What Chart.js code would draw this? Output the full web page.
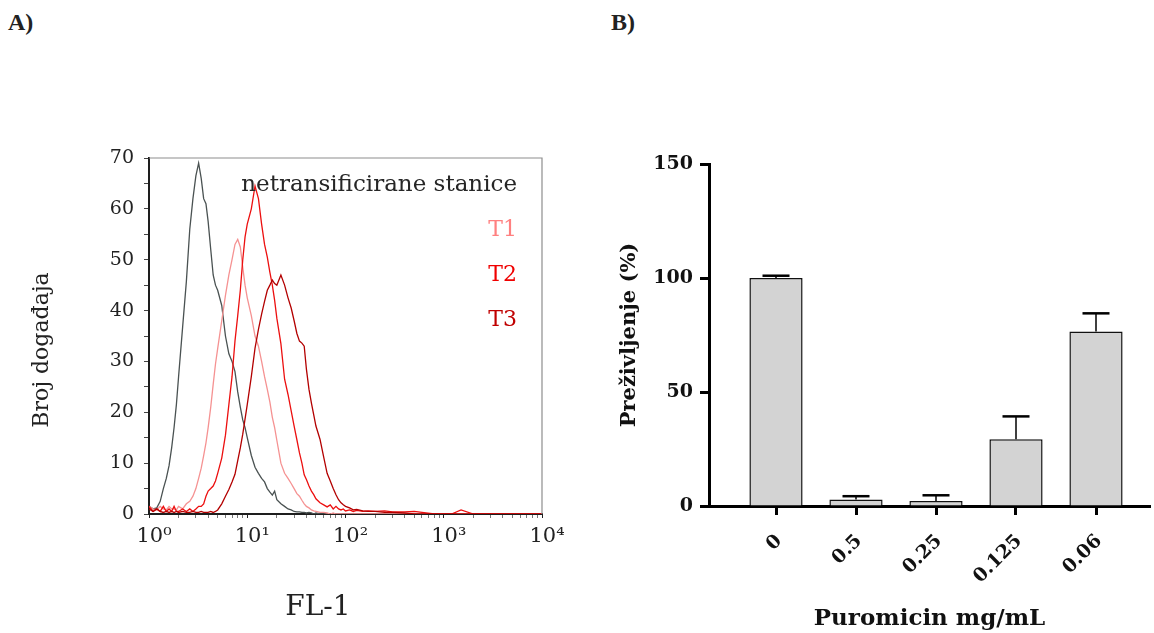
<!DOCTYPE html>
<html>
<head>
<meta charset="utf-8">
<title>FL-1 histogram i puromicin</title>
<script src="https://cdn.jsdelivr.net/npm/chart.js@4.4.1/dist/chart.umd.min.js"></script>
<style>
  html, body { margin: 0; background: #fff; }
  body { width: 1154px; height: 633px; position: relative; overflow: hidden; }
  .panel-tag { position: absolute; top: 9px; font: bold 24px "Liberation Serif", serif; color: #222; }
  #histChart { position: absolute; left: 0; top: 0; }
  #killChart { position: absolute; left: 580px; top: 0; }
</style>
</head>
<body>
<div class="panel-tag" style="left:8px">A)</div>
<div class="panel-tag" style="left:611px">B)</div>
<canvas id="histChart" width="580" height="633"></canvas>
<canvas id="killChart" width="574" height="633"></canvas>
<script>
// FL-1 channels (fluorescence) shared by all four histograms
const flChannels = [
  1, 1.1, 1.2, 1.3, 1.4, 1.5, 1.6, 1.7, 1.8, 1.9,
  2, 2.2, 2.4, 2.6, 2.8, 3, 3.2, 3.4, 3.6, 3.8,
  4, 4.25, 4.5, 4.75, 5, 5.5, 6, 6.5, 7, 7.5, 8, 8.5, 9, 9.5,
  10, 11, 12, 13, 14, 15, 16, 17, 18, 19,
  20, 22, 24, 26, 28, 30, 32, 34, 36, 38,
  40, 42.5, 45, 47.5, 50, 55, 60, 65, 70, 75, 80, 85, 90, 95,
  100, 110, 120, 130, 150, 170, 200, 250, 300, 400, 500, 600, 800,
  1000, 1200, 1500, 2000, 3000, 5000, 10000
];

// event counts per channel
const countsUntransfected = [
  1.5, 1, 1.2, 2.5, 5, 7, 9.5, 13, 17, 21.5,
  27, 36.8, 45.7, 56, 62, 66.5, 69, 66, 62, 61,
  57.5, 52, 47, 45, 44, 41, 35, 31.5, 30, 28, 24, 21, 18.5, 17,
  15, 11.5, 9.2, 8, 7, 6.3, 5, 4.3, 3.7, 4.5,
  2.8, 2, 1.5, 1, 0.8, 0.5, 0.4, 0.4, 0.3, 0.3,
  0.2, 0.3, 0.2, 0, 0.2, 0, 0, 0, 0, 0, 0, 0, 0, 0,
  0, 0, 0, 0, 0, 0, 0, 0, 0, 0, 0, 0, 0,
  0, 0, 0, 0, 0, 0, 0
];
const countsT1 = [
  1.5, 1, 0.8, 1.5, 1, 0.8, 1.5, 1, 1, 0.8,
  1.5, 1, 2, 2.5, 3.5, 5, 7, 9, 11.5, 14,
  17, 21, 25.5, 29.5, 32.5, 38, 43, 47, 50, 53, 54, 52.5, 48.5, 45,
  42.5, 39, 35, 33, 30, 27, 24.5, 22, 19, 17,
  14.5, 10, 8, 7, 6, 5, 4, 3.5, 2.7, 2,
  1.5, 1.2, 0.8, 0.6, 0.5, 0.3, 0.3, 0.2, 0, 0.2, 0, 0, 0, 0,
  0, 0, 0, 0, 0, 0, 0, 0, 0, 0, 0, 0, 0,
  0, 0, 0, 0, 0, 0, 0
];
const countsT2 = [
  1.5, 0.5, 1, 0.5, 1.5, 0.5, 1, 0.5, 1.5, 0.5,
  0.5, 1, 0.5, 1, 0.5, 1, 1.5, 1.5, 2, 3.5,
  4.5, 5, 5.5, 6.5, 8, 11, 15.5, 21.5, 27, 34, 39, 44, 50, 54.5,
  57, 60, 64.5, 62, 57, 53, 50.5, 47.5, 45, 42,
  38.5, 33.5, 26.5, 23.5, 20.3, 17.3, 14.6, 12, 10, 7.7,
  6.8, 5.5, 4.5, 3.8, 3, 2.2, 1.8, 1.4, 1.8, 1, 1.5, 1, 0.8, 1,
  0.6, 0.8, 0.5, 0.7, 0.5, 0.6, 0.5, 0.6, 0.4, 0.4, 0.5, 0.3, 0,
  0, 0, 0.8, 0, 0, 0, 0
];
const countsT3 = [
  1, 0.5, 1, 0.5, 0.3, 0.5, 0.3, 0.5, 0.3, 0.5,
  0.3, 0.5, 0.3, 0.3, 0.5, 0.3, 0.3, 0.5, 0.3, 0.3,
  0.3, 0.5, 0.3, 0.5, 0.8, 2, 3.5, 4.8, 6.3, 7.8, 10.5, 13, 15.7, 18.7,
  21.5, 27, 32.6, 36.3, 39.3, 41.8, 44, 45, 46, 45.3,
  45, 47, 45, 42.5, 40.5, 38, 35.5, 34, 33.6, 33,
  28.5, 24.5, 21.8, 19.5, 17.3, 14.7, 11.2, 8, 6.5, 5, 3.8, 2.8, 2.2, 1.8,
  1.5, 1.2, 0.8, 0.9, 0.6, 0.5, 0.5, 0.3, 0.3, 0.2, 0, 0, 0,
  0, 0, 0, 0, 0, 0, 0
];
const flDecades = [1, 10, 100, 1000, 10000];
const flDecadeLabels = ['10⁰', '10¹', '10²', '10³', '10⁴'];
const countTicks = [0, 10, 20, 30, 40, 50, 60, 70];

// puromycin kill curve
const doses = ['0', '0.5', '0.25', '0.125', '0.06'];
const survival = [100, 2.8, 2.2, 29.3, 76.5];
const survivalSd = [1, 1.5, 2.5, 10, 8];
const survivalTicks = [0, 50, 100, 150];

Chart.defaults.font.family = '"DejaVu Serif", serif';
Chart.defaults.color = '#222';
Chart.defaults.animation = false;
Chart.defaults.plugins.legend.display = false;
Chart.defaults.plugins.tooltip.enabled = false;

// ---------- A) histogram ----------
const populations = [
  { label: 'netransificirane stanice', counts: countsUntransfected, line: '#4a5252', text: '#262626' },
  { label: 'T1', counts: countsT1, line: '#f59292', text: '#ff8080' },
  { label: 'T2', counts: countsT2, line: '#ec0f0f', text: '#f00000' },
  { label: 'T3', counts: countsT3, line: '#b30000', text: '#c00000' }
];

// every 1..9 step inside each decade gets a small tick
const flTickValues = flDecades.flatMap((d, i) =>
  i < flDecades.length - 1 ? [1, 2, 3, 4, 5, 6, 7, 8, 9].map(k => d * k) : [d]);
const countTickValues = countTicks.flatMap((v, i) => i ? [v - 5, v] : [v]);

const histText = {
  id: 'histText',
  afterDraw(chart) {
    const { ctx, chartArea: a } = chart;
    ctx.save();
    // light frame on the top and right
    ctx.strokeStyle = '#8e8e8e';
    ctx.lineWidth = 1.2;
    ctx.beginPath();
    ctx.moveTo(a.left, a.top);
    ctx.lineTo(a.right, a.top);
    ctx.lineTo(a.right, a.bottom);
    ctx.stroke();

    // population names in the upper right corner
    ctx.textAlign = 'right';
    ctx.textBaseline = 'alphabetic';
    populations.forEach((p, i) => {
      ctx.font = (i ? 22 : 23) + 'px "DejaVu Serif"';
      ctx.fillStyle = p.text;
      ctx.fillText(p.label, a.right - 25, a.top + 33 + i * 45);
    });

    // axis captions
    ctx.fillStyle = '#222';
    ctx.textAlign = 'center';
    ctx.font = '28px "DejaVu Serif"';
    ctx.fillText('FL-1', 318, 615);
    ctx.font = '22px "DejaVu Serif"';
    ctx.translate(48, 350);
    ctx.rotate(-Math.PI / 2);
    ctx.fillText('Broj događaja', 0, 0);
    ctx.restore();
  }
};

new Chart(document.getElementById('histChart'), {
  type: 'line',
  data: {
    // untransfected drawn last so the T3 trace ends up underneath
    datasets: populations.map(p => ({
      label: p.label,
      data: flChannels.map((x, i) => ({ x, y: p.counts[i] })),
      borderColor: p.line,
      borderWidth: 1.3,
      pointRadius: 0,
      tension: 0,
      fill: false
    })).reverse()
  },
  options: {
    responsive: false,
    layout: { padding: { top: 158, right: 38, left: 0, bottom: 0 } },
    scales: {
      x: {
        type: 'logarithmic',
        min: 1,
        max: 10000,
        afterBuildTicks: s => { s.ticks = flTickValues.map(value => ({ value })); },
        afterFit: s => { s.height = 119; },
        grid: {
          drawOnChartArea: false,
          tickLength: 4,
          tickColor: c => flDecades.includes(c.tick.value) ? '#222' : '#777'
        },
        border: { color: '#1e1e1e', width: 2 },
        ticks: {
          autoSkip: false,
          maxRotation: 0,
          padding: 6,
          labelOffset: 5,
          font: { size: 21 },
          callback: v => {
            const i = flDecades.indexOf(v);
            return i >= 0 ? flDecadeLabels[i] : '';
          }
        }
      },
      y: {
        min: 0,
        max: 70,
        afterBuildTicks: s => { s.ticks = countTickValues.map(value => ({ value })); },
        afterFit: s => { s.width = 149; },
        grid: { drawOnChartArea: false, tickLength: 5, tickColor: '#444' },
        border: { color: '#1e1e1e', width: 2 },
        ticks: {
          autoSkip: false,
          padding: 10,
          font: { size: 19 },
          callback: v => countTicks.includes(v) ? String(v) : ''
        }
      }
    }
  },
  plugins: [histText]
});

// ---------- B) puromycin survival ----------
const errorBars = {
  id: 'errorBars',
  afterDatasetsDraw(chart) {
    const { ctx, scales: { y } } = chart;
    const bars = chart.getDatasetMeta(0).data;
    ctx.save();
    ctx.strokeStyle = '#000';
    bars.forEach((bar, i) => {
      const top = y.getPixelForValue(survival[i] + survivalSd[i]);
      ctx.lineWidth = 1.5;
      ctx.beginPath();
      ctx.moveTo(bar.x, bar.y);
      ctx.lineTo(bar.x, top);
      ctx.stroke();
      ctx.lineWidth = 2.5;
      ctx.beginPath();
      ctx.moveTo(bar.x - 13.5, top);
      ctx.lineTo(bar.x + 13.5, top);
      ctx.stroke();
    });
    ctx.restore();
  }
};

new Chart(document.getElementById('killChart'), {
  type: 'bar',
  data: {
    datasets: [{
      data: doses.map((d, i) => ({ x: i, y: survival[i] })),
      backgroundColor: '#d3d3d3',
      borderColor: '#111',
      borderWidth: 1.5,
      categoryPercentage: 1,
      barPercentage: 0.665
    }]
  },
  options: {
    responsive: false,
    layout: { padding: { top: 164, right: 4, left: 37, bottom: 0 } },
    scales: {
      x: {
        type: 'linear',
        offset: false,
        min: -0.8375,
        max: 4.675,
        afterBuildTicks: s => { s.ticks = doses.map((d, i) => ({ value: i })); },
        afterFit: s => { s.height = 127; },
        grid: { offset: false, drawOnChartArea: false, tickLength: 9, tickWidth: 3, tickColor: '#000' },
        border: { color: '#000', width: 3 },
        ticks: {
          autoSkip: false,
          minRotation: 45,
          maxRotation: 45,
          padding: 15,
          labelOffset: 3,
          color: '#111',
          font: { size: 19, weight: 'bold' },
          callback: v => doses[v]
        },
        title: {
          display: true,
          text: 'Puromicin mg/mL',
          color: '#111',
          padding: 0,
          font: { size: 23, weight: 'bold' }
        }
      },
      y: {
        min: 0,
        max: 150,
        afterBuildTicks: s => { s.ticks = survivalTicks.map(value => ({ value })); },
        afterFit: s => { s.width = 92; },
        grid: { drawOnChartArea: false, tickLength: 9, tickWidth: 3, tickColor: '#000' },
        border: { color: '#000', width: 3 },
        ticks: {
          padding: 7,
          color: '#111',
          font: { size: 19, weight: 'bold' }
        },
        title: {
          display: true,
          text: 'Preživljenje (%)',
          color: '#111',
          padding: 0,
          font: { size: 21, weight: 'bold' }
        }
      }
    }
  },
  plugins: [errorBars]
});
</script>
</body>
</html>
